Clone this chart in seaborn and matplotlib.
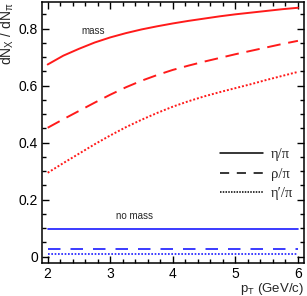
import numpy as np
import pandas as pd
import seaborn as sns
import matplotlib.pyplot as plt
from matplotlib.ticker import MultipleLocator, FormatStrFormatter
from matplotlib.lines import Line2D

# p_T grid and ratios
pt = [2.0, 2.25, 2.5, 2.75, 3.0, 3.25, 3.5, 3.75, 4.0,
      4.25, 4.5, 4.75, 5.0, 5.25, 5.5, 5.75, 6.0]
eta_mass = [0.674, 0.705, 0.729, 0.751, 0.769, 0.784, 0.797, 0.808, 0.818,
            0.827, 0.835, 0.843, 0.850, 0.856, 0.862, 0.868, 0.873]
rho_mass = [0.452, 0.482, 0.511, 0.540, 0.568, 0.594, 0.617, 0.637, 0.655,
            0.670, 0.684, 0.697, 0.710, 0.722, 0.734, 0.746, 0.757]
etap_mass = [0.294, 0.328, 0.361, 0.394, 0.425, 0.454, 0.480, 0.504, 0.526,
             0.545, 0.562, 0.577, 0.591, 0.605, 0.620, 0.634, 0.648]
eta_nomass = [0.098] * len(pt)
rho_nomass = [0.026] * len(pt)
etap_nomass = [0.009] * len(pt)

labels = ["η/π", "ρ/π", "η′/π"]

sns.set_theme(style="ticks")
plt.rcParams["font.family"] = ["Liberation Sans", "DejaVu Sans"]
plt.rcParams["mathtext.fontset"] = "custom"
plt.rcParams["mathtext.rm"] = "Liberation Sans"
plt.rcParams["mathtext.it"] = "Liberation Sans"

fig = plt.figure(figsize=(3.07, 2.96), dpi=100)
ax = fig.add_axes([0.138, 0.112, 0.852, 0.881])

red = "#ff1a1a"
blue = "#1a1aff"
styles = [dict(ls="-"), dict(ls=(0, (7, 4))), dict(ls=(0, (1, 1)))]
for ys, st in zip([eta_mass, rho_mass, etap_mass], styles):
    sns.lineplot(x=pt, y=ys, color=red, lw=1.4, ax=ax, **st)
blue_styles = [dict(ls="-"), dict(ls=(0, (7.5, 6))), dict(ls=(0, (1, 1)))]
for ys, st in zip([eta_nomass, rho_nomass, etap_nomass], blue_styles):
    sns.lineplot(x=pt, y=ys, color=blue, lw=1.2, ax=ax, **st)

ax.text(2.72, 0.79, "mass", fontsize=7, ha="center", va="center")
ax.text(3.39, 0.143, "no mass", fontsize=7, ha="center", va="center")

handles = [Line2D([], [], color="black", lw=1.1, ls="-"),
           Line2D([], [], color="black", lw=1.1, ls=(0, (6, 5))),
           Line2D([], [], color="black", lw=1.1, ls=(0, (1, 0.8)))]
leg = ax.legend(handles, labels, loc="upper left", bbox_to_anchor=(0.63, 0.49),
                frameon=False, handlelength=2.9, handletextpad=0.6,
                labelspacing=0.42, prop={"family": "Liberation Serif", "size": 10.5})

ax.set_xlim(1.915, 6.096)
ax.set_ylim(-0.022, 0.893)
ax.xaxis.set_major_locator(MultipleLocator(1))
ax.xaxis.set_minor_locator(MultipleLocator(0.2))
ax.yaxis.set_major_locator(MultipleLocator(0.2))
ax.yaxis.set_minor_locator(MultipleLocator(0.05))
ax.yaxis.set_major_formatter(FormatStrFormatter("%g"))
ax.tick_params(which="both", direction="in", top=True, right=True,
               width=1.0, labelsize=10, colors="black")
ax.tick_params(which="major", length=5, pad=3)
ax.tick_params(which="minor", length=3)
for s in ax.spines.values():
    s.set_linewidth(1.1)
    s.set_color("black")

ax.set_xlabel(r"p$_\mathrm{T}$ (GeV/c)", fontsize=9.5, loc="right", labelpad=-0.3)
ax.set_ylabel(r"dN$_\mathrm{X}$ / dN$_\mathrm{\pi}$", fontsize=10, loc="top", labelpad=2)

fig.savefig("out.png", dpi=100)
